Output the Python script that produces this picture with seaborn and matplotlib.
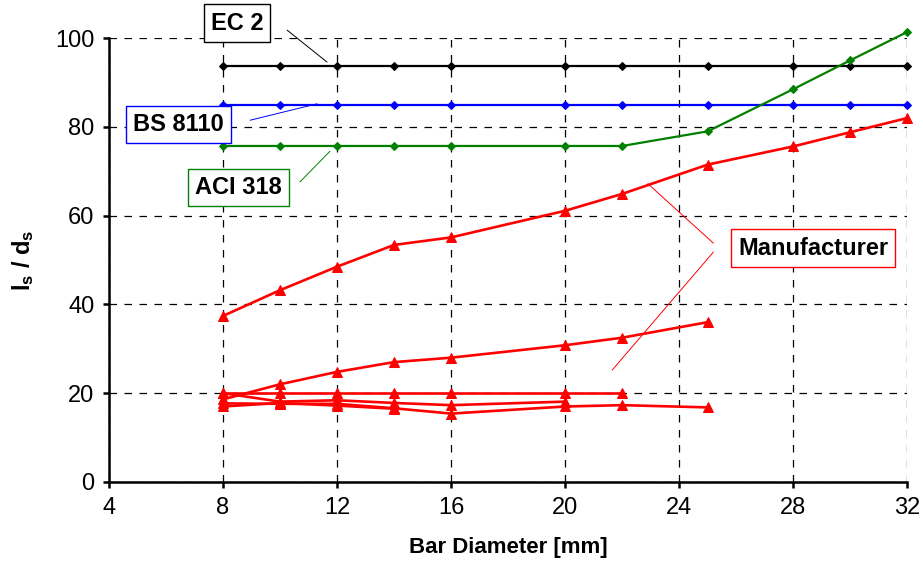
import numpy as np
import pandas as pd
import matplotlib
matplotlib.use("Agg")
import matplotlib.pyplot as plt
import seaborn as sns

# style
sns.set_theme(style="white")
plt.rcParams["font.family"] = ["Liberation Sans", "DejaVu Sans"]
plt.rcParams["mathtext.fontset"] = "custom"
plt.rcParams["mathtext.rm"] = "Liberation Sans"
plt.rcParams["mathtext.bf"] = "Liberation Sans:bold"
plt.rcParams["text.color"] = "black"
plt.rcParams["axes.labelcolor"] = "black"

# data
code_x = [8, 10, 12, 14, 16, 20, 22, 25, 28, 30, 32]
ec2 = [93.7] * 11
bs8110 = [85.0] * 11
aci318 = [75.7, 75.7, 75.7, 75.7, 75.7, 75.7, 75.7, 79.0, 88.5, 95.0, 101.4]

man1_x = [8, 10, 12, 14, 16, 20, 22, 25, 28, 30, 32]
man1 = [37.4, 43.2, 48.5, 53.4, 55.1, 61.1, 64.9, 71.5, 75.6, 78.8, 82.0]
man2_x = [8, 10, 12, 14, 16, 20, 22, 25]
man2 = [18.6, 22.0, 24.8, 27.0, 28.0, 30.8, 32.5, 36.0]
man3_x = [8, 10, 12, 14, 16, 20, 22]
man3 = [20.0, 20.0, 20.0, 20.0, 20.0, 20.0, 20.0]
man4_x = [8, 10, 12, 14, 16, 20]
man4 = [20.0, 18.1, 18.4, 17.8, 17.3, 18.1]
man5_x = [8, 10, 12, 14, 16, 20, 22, 25]
man5 = [17.7, 17.6, 17.6, 16.6, 15.4, 17.0, 17.3, 16.8]
man6_x = [8, 10, 12, 14]
man6 = [17.0, 17.8, 17.2, 16.5]

fig, ax = plt.subplots(figsize=(9.23, 5.69), dpi=100)
fig.subplots_adjust(left=0.118, right=0.983, bottom=0.153, top=0.933)

# code lines
for vals, col in [(ec2, "black"), (bs8110, "blue"), (aci318, "green")]:
    sns.lineplot(x=code_x, y=vals, ax=ax, color=col, lw=1.6, marker="D",
                 markersize=4, markeredgecolor=col, clip_on=False, zorder=3)

# manufacturer lines
for xs, vals in [(man1_x, man1), (man2_x, man2), (man3_x, man3),
                 (man4_x, man4), (man5_x, man5), (man6_x, man6)]:
    sns.lineplot(x=xs, y=vals, ax=ax, color="red", lw=1.9, marker="^",
                 markersize=7, markeredgecolor="red", clip_on=False, zorder=4)

ax.set_xlim(4, 32)
ax.set_ylim(0, 100)
ax.set_xticks(np.arange(4, 33, 4))
ax.set_yticks(np.arange(0, 101, 20))
ax.grid(True, color="black", linestyle=(0, (6, 6)), lw=0.9)
for s in ["top", "right"]:
    ax.spines[s].set_visible(False)
for s in ["left", "bottom"]:
    ax.spines[s].set_color("black")
    ax.spines[s].set_linewidth(1.8)
ax.tick_params(axis="both", direction="out", length=4.5, width=1.8,
               labelsize=17, colors="black", pad=6)
ax.tick_params(axis="x", bottom=True)
ax.tick_params(axis="y", left=True)

ax.set_xlabel("Bar Diameter [mm]", fontsize=16, fontweight="bold", labelpad=13)
ax.set_ylabel(r"$\mathbf{l_s}$ / $\mathbf{d_s}$", fontsize=17,
              fontweight="bold", labelpad=14)

# labels with leader lines
def label(txt, xy, edge):
    ax.text(xy[0], xy[1], txt, fontsize=17, fontweight="bold", ha="center",
            va="center", zorder=6, clip_on=False, color="black",
            bbox=dict(boxstyle="square,pad=0.3", fc="white", ec=edge, lw=1.0))

label("EC 2", (8.49, 103.4), "black")
ax.plot([10.25, 11.65], [101.8, 94.6], color="black", lw=0.7, clip_on=False)
label("BS 8110", (6.44, 80.5), "blue")
ax.plot([8.95, 11.3], [81.5, 85.2], color="blue", lw=0.7)
label("ACI 318", (8.53, 66.4), "green")
ax.plot([10.7, 11.75], [67.6, 74.5], color="green", lw=0.7)
label("Manufacturer", (28.7, 52.7), "red")
ax.plot([25.2, 22.9], [53.8, 67.2], color="red", lw=0.7)
ax.plot([25.2, 21.65], [51.8, 25.2], color="red", lw=0.7)

plt.savefig("out.png", dpi=100)
